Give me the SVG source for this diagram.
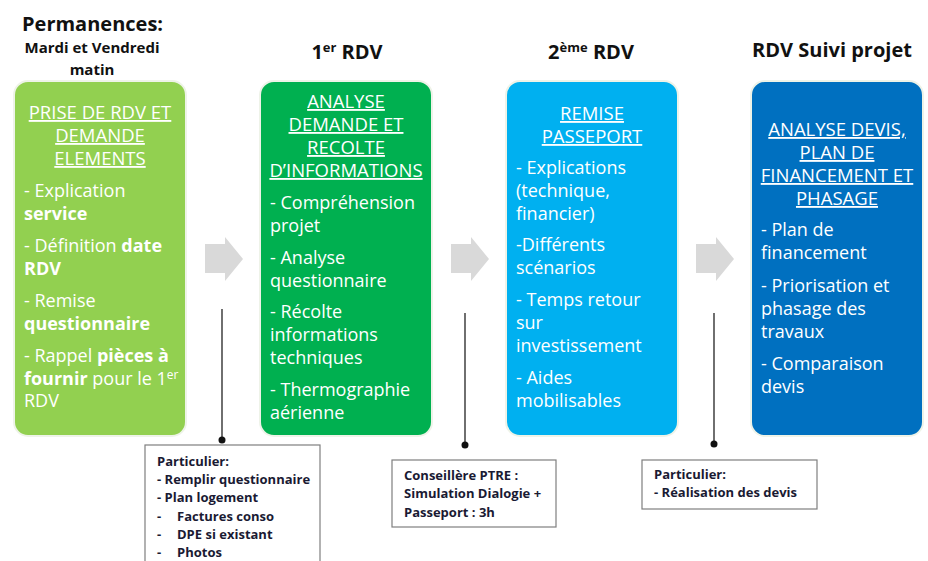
<svg xmlns="http://www.w3.org/2000/svg" width="928" height="561" viewBox="0 0 928 561">
<style>
text{font-family:"Open Sans","Noto Sans","Liberation Sans",sans-serif}
.hd{font-size:20px;font-weight:bold;fill:#111;text-anchor:middle}
.box{stroke:#eef3e8;stroke-width:2}
.t{font-size:18px;fill:#fff;font-weight:500}
.u{text-decoration:underline;text-anchor:middle;font-size:18.5px}
.b{font-weight:bold}
.arr{fill:#d9d9d9}
.ln{stroke:#222;stroke-width:1.3}
.note{fill:#fff;stroke:#7f7f7f;stroke-width:1.2}
.nt{font-size:13px;font-weight:bold;fill:#1a1a33}
</style>
<rect width="928" height="561" fill="#fff"/>
<text x="22" y="31" style="font-size:20px;font-weight:bold;fill:#111">Permanences:</text>
<text x="92" y="53" style="font-size:15px;font-weight:bold;fill:#111;text-anchor:middle">Mardi et Vendredi</text>
<text x="92" y="75" style="font-size:15px;font-weight:bold;fill:#111;text-anchor:middle">matin</text>
<text x="347" y="59" class="hd">1<tspan dy="-7" style="font-size:13px">er</tspan><tspan dy="7"> RDV</tspan></text>
<text x="591" y="59" class="hd">2<tspan dy="-7" style="font-size:13px">ème</tspan><tspan dy="7"> RDV</tspan></text>
<text x="832" y="57" class="hd">RDV Suivi projet</text>

<g id="n1">
<rect class="box" x="14" y="81" width="172" height="355" rx="14" fill="#92d050"/>
<text class="t u" x="100" y="119">PRISE DE RDV ET</text>
<text class="t u" x="100" y="142">DEMANDE</text>
<text class="t u" x="100" y="165">ELEMENTS</text>
<text class="t" x="24" y="197">- Explication</text>
<text class="t b" x="24" y="220">service</text>
<text class="t" x="24" y="252">- Définition <tspan class="b">date</tspan></text>
<text class="t b" x="24" y="275">RDV</text>
<text class="t" x="24" y="307">- Remise</text>
<text class="t b" x="24" y="330">questionnaire</text>
<text class="t" x="24" y="362">- Rappel <tspan class="b">pièces à</tspan></text>
<text class="t" x="24" y="385"><tspan class="b">fournir</tspan> pour le 1<tspan dy="-6" style="font-size:12px">er</tspan></text>
<text class="t" x="24" y="407">RDV</text>
</g>

<g id="n2">
<rect class="box" x="260" y="81" width="172" height="355" rx="14" fill="#00b050"/>
<text class="t u" x="346" y="108">ANALYSE</text>
<text class="t u" x="346" y="131">DEMANDE ET</text>
<text class="t u" x="346" y="154">RECOLTE</text>
<text class="t u" x="346" y="177">D’INFORMATIONS</text>
<text class="t" x="270" y="209">- Compréhension</text>
<text class="t" x="270" y="232">projet</text>
<text class="t" x="270" y="264">- Analyse</text>
<text class="t" x="270" y="287">questionnaire</text>
<text class="t" x="270" y="318">- Récolte</text>
<text class="t" x="270" y="341">informations</text>
<text class="t" x="270" y="364">techniques</text>
<text class="t" x="270" y="396">- Thermographie</text>
<text class="t" x="270" y="419">aérienne</text>
</g>

<g id="n3">
<rect class="box" x="506" y="81" width="172" height="355" rx="14" fill="#00b0f0"/>
<text class="t u" x="592" y="120">REMISE</text>
<text class="t u" x="592" y="143">PASSEPORT</text>
<text class="t" x="516" y="174">- Explications</text>
<text class="t" x="516" y="197">(technique,</text>
<text class="t" x="516" y="220">financier)</text>
<text class="t" x="516" y="251">-Différents</text>
<text class="t" x="516" y="274">scénarios</text>
<text class="t" x="516" y="306">- Temps retour</text>
<text class="t" x="516" y="329">sur</text>
<text class="t" x="516" y="352">investissement</text>
<text class="t" x="516" y="384">- Aides</text>
<text class="t" x="516" y="407">mobilisables</text>
</g>

<g id="n4">
<rect class="box" x="751" y="81" width="172" height="355" rx="14" fill="#0070c0"/>
<text class="t u" x="837" y="136">ANALYSE DEVIS,</text>
<text class="t u" x="837" y="159">PLAN DE</text>
<text class="t u" x="837" y="182">FINANCEMENT ET</text>
<text class="t u" x="837" y="205">PHASAGE</text>
<text class="t" x="761" y="236">- Plan de</text>
<text class="t" x="761" y="259">financement</text>
<text class="t" x="761" y="292">- Priorisation et</text>
<text class="t" x="761" y="315">phasage des</text>
<text class="t" x="761" y="338">travaux</text>
<text class="t" x="761" y="370">- Comparaison</text>
<text class="t" x="761" y="393">devis</text>
</g>

<g id="connectors">
<polygon class="arr" points="205,244 225,244 225,237 243,259 225,281 225,273 205,273"/>
<polygon class="arr" points="451,244 471,244 471,237 489,259 471,281 471,273 451,273"/>
<polygon class="arr" points="696,244 716,244 716,237 734,259 716,281 716,273 696,273"/>
<line class="ln" x1="222" y1="309" x2="222" y2="440"/>
<circle cx="222" cy="440" r="3.5" fill="#111"/>
<line class="ln" x1="465" y1="313" x2="465" y2="445"/>
<circle cx="465" cy="445" r="3.5" fill="#111"/>
<line class="ln" x1="714" y1="313" x2="714" y2="444"/>
<circle cx="714" cy="444" r="3.5" fill="#111"/>
</g>

<g id="note1">
<rect class="note" x="145" y="445" width="175" height="130"/>
<text class="nt" x="157" y="466">Particulier:</text>
<text class="nt" x="157" y="484">- Remplir questionnaire</text>
<text class="nt" x="157" y="502">- Plan logement</text>
<text class="nt" x="157" y="521">-<tspan x="177">Factures conso</tspan></text>
<text class="nt" x="157" y="539">-<tspan x="177">DPE si existant</tspan></text>
<text class="nt" x="157" y="557">-<tspan x="177">Photos</tspan></text>
</g>
<g id="note2">
<rect class="note" x="392" y="460" width="164" height="67"/>
<text class="nt" x="404" y="480">Conseillère PTRE :</text>
<text class="nt" x="404" y="498">Simulation Dialogie +</text>
<text class="nt" x="404" y="517">Passeport : 3h</text>
</g>
<g id="note3">
<rect class="note" x="642" y="460" width="175" height="49"/>
<text class="nt" x="654" y="479">Particulier:</text>
<text class="nt" x="654" y="497">- Réalisation des devis</text>
</g>
</svg>
